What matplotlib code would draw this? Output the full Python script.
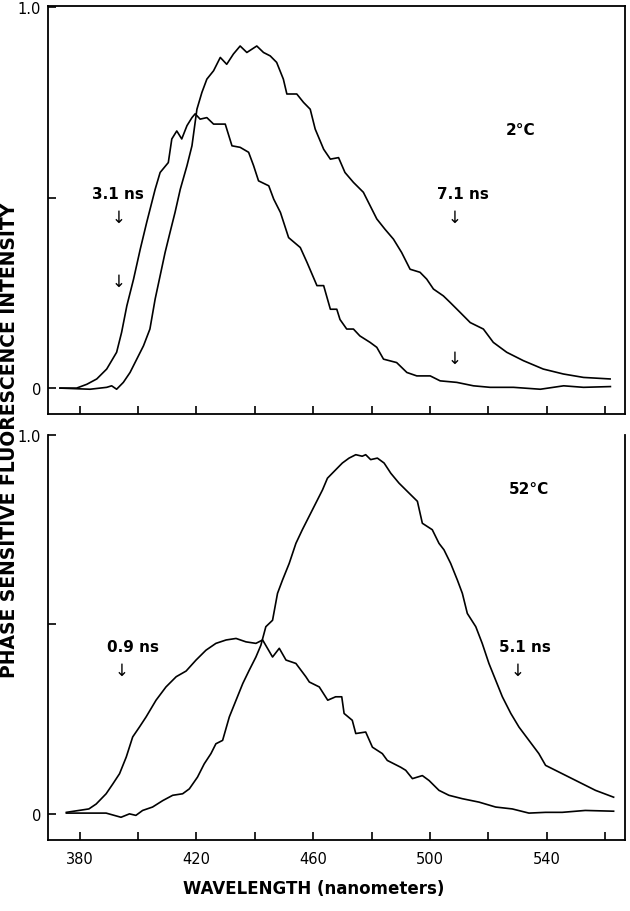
import matplotlib
matplotlib.use("Agg")
import matplotlib.pyplot as plt

# ---------------- data ----------------
# Top panel, 2 C : blue-shifted (short lifetime) component
top_short_nm = [373.3, 379.0, 382.5, 385.9, 389.3, 392.7, 394.4, 396.2, 398.5, 400.8,
                403.0, 405.9, 407.6, 410.4, 411.6, 413.3, 415.0, 416.8, 418.5, 419.6,
                421.3, 423.6, 425.9, 429.9, 432.2, 435.0, 437.9, 439.6, 441.3, 444.8,
                446.5, 448.8, 451.6, 455.6, 457.9, 461.3, 463.6, 465.9, 468.1, 469.2,
                471.5, 473.8, 476.0, 479.5, 481.8, 484.1, 488.6, 492.1, 495.5, 500.1,
                503.5, 509.2, 514.9, 520.6, 528.6, 537.8, 545.8, 552.6, 561.8]
top_short_val = [0.000, 0.000, 0.010, 0.024, 0.050, 0.094, 0.146, 0.216, 0.286, 0.365,
                 0.435, 0.522, 0.566, 0.592, 0.654, 0.675, 0.654, 0.689, 0.710, 0.720,
                 0.706, 0.710, 0.693, 0.693, 0.636, 0.632, 0.619, 0.584, 0.544, 0.531,
                 0.496, 0.461, 0.395, 0.369, 0.330, 0.269, 0.269, 0.207, 0.207, 0.180,
                 0.155, 0.155, 0.137, 0.120, 0.107, 0.076, 0.067, 0.041, 0.032, 0.032,
                 0.019, 0.015, 0.006, 0.002, 0.002, -0.003, 0.006, 0.002, 0.004]

# Top panel, 2 C : red-shifted (long lifetime) component
top_long_nm = [373.3, 383.6, 389.3, 391.0, 392.7, 395.0, 397.3, 399.6, 401.9, 404.1,
               405.9, 407.6, 409.3, 411.0, 412.7, 414.5, 416.8, 418.5, 420.2, 421.9,
               423.6, 425.9, 428.2, 430.4, 432.7, 435.0, 437.3, 440.7, 443.0, 445.3,
               447.5, 449.8, 451.0, 454.4, 456.7, 459.0, 460.7, 463.6, 465.9, 468.7,
               470.9, 473.8, 477.2, 479.5, 481.8, 484.6, 487.5, 490.3, 493.2, 496.6,
               498.9, 501.2, 504.6, 506.9, 510.3, 513.8, 518.3, 521.7, 526.3, 532.0,
               538.8, 545.7, 552.6, 561.7]
top_long_val = [0.000, -0.003, 0.002, 0.006, -0.003, 0.015, 0.041, 0.076, 0.111, 0.155,
                0.234, 0.295, 0.356, 0.409, 0.461, 0.522, 0.584, 0.636, 0.732, 0.776,
                0.811, 0.833, 0.868, 0.850, 0.877, 0.898, 0.881, 0.898, 0.881, 0.872,
                0.855, 0.811, 0.772, 0.772, 0.750, 0.732, 0.680, 0.627, 0.601, 0.605,
                0.566, 0.540, 0.514, 0.479, 0.444, 0.417, 0.391, 0.356, 0.312, 0.304,
                0.286, 0.260, 0.242, 0.225, 0.199, 0.172, 0.155, 0.120, 0.094, 0.072,
                0.050, 0.037, 0.028, 0.024]

# Bottom panel, 52 C : short lifetime (0.9 ns) component
bot_short_nm = [375.5, 383.2, 385.7, 389.1, 391.4, 393.7, 396.0, 398.2, 400.5, 402.8,
                406.2, 409.6, 413.1, 416.5, 419.9, 423.3, 426.7, 430.2, 433.6, 437.0,
                440.4, 442.7, 446.1, 448.4, 450.7, 454.1, 457.5, 458.7, 462.1, 465.0,
                467.7, 469.8, 470.6, 473.4, 474.6, 478.0, 480.3, 483.7, 485.4, 490.0,
                491.7, 494.0, 497.4, 499.7, 503.1, 506.5, 511.1, 516.8, 522.5, 528.2,
                533.9, 539.6, 545.3, 553.2, 562.9]
bot_short_val = [0.004, 0.013, 0.026, 0.053, 0.079, 0.106, 0.150, 0.203, 0.229, 0.256,
                 0.300, 0.335, 0.362, 0.377, 0.406, 0.432, 0.450, 0.459, 0.463, 0.454,
                 0.450, 0.459, 0.414, 0.437, 0.406, 0.397, 0.362, 0.348, 0.335, 0.300,
                 0.309, 0.309, 0.265, 0.247, 0.212, 0.216, 0.176, 0.159, 0.141, 0.123,
                 0.115, 0.093, 0.101, 0.088, 0.062, 0.049, 0.040, 0.031, 0.018, 0.013,
                 0.002, 0.004, 0.004, 0.009, 0.007]

# Bottom panel, 52 C : long lifetime (5.1 ns) component
bot_long_nm = [375.5, 383.4, 389.1, 394.2, 397.1, 399.3, 401.6, 405.0, 408.5, 411.9,
               415.3, 417.6, 420.4, 422.7, 425.0, 426.7, 429.0, 431.3, 433.6, 435.9,
               438.1, 440.4, 442.1, 443.8, 446.1, 447.8, 449.5, 451.8, 454.1, 456.3,
               458.6, 460.9, 463.2, 464.9, 467.7, 470.0, 472.3, 474.6, 476.8, 478.0,
               479.7, 482.0, 484.3, 486.6, 489.4, 492.8, 495.7, 497.4, 500.8, 503.1,
               504.8, 507.1, 509.4, 511.1, 512.8, 515.7, 517.9, 520.2, 522.5, 524.8,
               527.7, 530.5, 533.9, 537.3, 539.6, 545.3, 551.0, 556.7, 562.9]
bot_long_val = [0.002, 0.002, 0.002, -0.009, 0.000, -0.004, 0.009, 0.018, 0.035, 0.049,
                0.053, 0.066, 0.097, 0.132, 0.159, 0.185, 0.194, 0.256, 0.300, 0.344,
                0.379, 0.414, 0.445, 0.494, 0.511, 0.582, 0.617, 0.661, 0.714, 0.750,
                0.785, 0.820, 0.855, 0.886, 0.908, 0.926, 0.939, 0.948, 0.944, 0.948,
                0.935, 0.939, 0.926, 0.899, 0.873, 0.847, 0.825, 0.767, 0.750, 0.714,
                0.697, 0.661, 0.617, 0.582, 0.529, 0.494, 0.450, 0.397, 0.353, 0.309,
                0.265, 0.229, 0.194, 0.159, 0.128, 0.106, 0.084, 0.062, 0.044]

x_ticks = [380, 400, 420, 440, 460, 480, 500, 520, 540, 560]
x_tick_labels = ["380", "", "420", "", "460", "", "500", "", "540", ""]
y_ticks = [0, 0.5, 1.0]
y_tick_labels = ["0", "", "1.0"]

top_title = "2°C"
bot_title = "52°C"

# ---------------- figure ----------------
plt.rcParams['font.family'] = ['DejaVu Sans']
fig = plt.figure(figsize=(6.30, 9.12), dpi=100)

ax_top = fig.add_axes([48/630, 1-415/912, (625-48)/630, (415-7)/912])
ax_bot = fig.add_axes([48/630, 1-841/912, (625-48)/630, (841-436)/912])

lw = 1.2
ax_top.plot(top_long_nm, top_long_val, color='black', lw=lw)
ax_top.plot(top_short_nm, top_short_val, color='black', lw=lw)
ax_bot.plot(bot_long_nm, bot_long_val, color='black', lw=lw)
ax_bot.plot(bot_short_nm, bot_short_val, color='black', lw=lw)

for ax in (ax_top, ax_bot):
    ax.set_xlim(369.2, 566.8)
    ax.set_xticks(x_ticks)
    ax.set_yticks(y_ticks)
    ax.set_yticklabels(y_tick_labels)
    ax.tick_params(direction='in', length=6, width=1.2, labelsize=10.5, pad=4)
    ax.tick_params(axis='y', pad=5)
    for s in ax.spines.values():
        s.set_linewidth(1.3)

ax_top.set_ylim(-0.068, 1.003)
ax_top.set_xticklabels([])
ax_bot.set_ylim(-0.069, 1.0)
ax_bot.set_xticklabels(x_tick_labels)
ax_bot.spines['top'].set_visible(False)
ax_bot.tick_params(axis='x', pad=8)

# annotations
tkw = dict(fontsize=11, ha='center', va='center', fontweight='bold')
akw = dict(fontsize=12, ha='center', va='center')
ax_top.text(531, 0.68, top_title, **tkw)
ax_top.text(393.2, 0.51, "3.1 ns", **tkw)
ax_top.text(393.2, 0.45, "↓", **akw)
ax_top.text(393.2, 0.28, "↓", **akw)
ax_top.text(511.4, 0.51, "7.1 ns", **tkw)
ax_top.text(508.3, 0.45, "↓", **akw)
ax_top.text(508.3, 0.08, "↓", **akw)

ax_bot.text(533.8, 0.86, bot_title, **tkw)
ax_bot.text(398.2, 0.443, "0.9 ns", **tkw)
ax_bot.text(394.3, 0.38, "↓", **akw)
ax_bot.text(532.7, 0.443, "5.1 ns", **tkw)
ax_bot.text(530.0, 0.38, "↓", **akw)

fig.text(10/630, 1-440/912, "PHASE SENSITIVE FLUORESCENCE INTENSITY",
         rotation=90, ha='center', va='center', fontsize=13.5, fontweight='bold')
fig.text(314/630, 1-889/912, "WAVELENGTH (nanometers)",
         ha='center', va='center', fontsize=12, fontweight='bold')

fig.savefig("out.png", dpi=100)
